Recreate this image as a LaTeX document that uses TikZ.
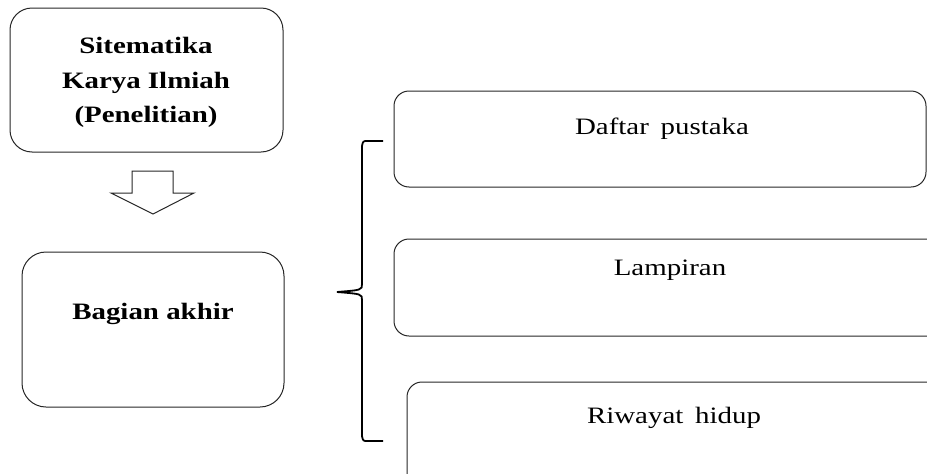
\documentclass[tikz,border=0pt]{standalone}
\usepackage{fontspec}
\setmainfont{Liberation Serif}[FakeStretch=1.23]
\begin{document}
\begin{tikzpicture}[x=1pt,y=-1pt,
  box/.style={draw=black!85,line width=1pt,rounded corners=#1},
  box/.default=15pt,
  lbl/.style={anchor=base,inner sep=0pt,font=\fontsize{23.5}{28}\selectfont},
  blbl/.style={lbl,font=\fontsize{23.5}{28}\selectfont\bfseries}]
\useasboundingbox (0,0) rectangle (927,474);
\clip (0,0) rectangle (927,474);

% left column: title box, arrow, final box
\draw[box=22pt] (10,8) rectangle (283,152);
\node[blbl] (t1) at (146,53) {Sitematika};
\node[blbl] (t2) at (146,88) {Karya Ilmiah};
\node[blbl] (t3) at (146,122) {(Penelitian)};

\draw[line width=1pt,black!85,line join=miter]
  (132,171) -- (173,171) -- (173,193) -- (194,193) -- (153,214)
  -- (111,193) -- (132,193) -- cycle;

\draw[box=24pt] (22,252) rectangle (284,407);
\node[blbl] (ba) at (153,319) {Bagian akhir};

% brace joining the parts
\coordinate (btop) at (383,141);
\coordinate (bmid) at (337,292);
\coordinate (bbot) at (383,441);
\draw[line width=1.8pt,black]
  (btop) -- (368,141) .. controls (363,141) .. (362,146) -- (362,284)
  .. controls (362,290) .. (bmid)
  .. controls (362,294) .. (362,300) -- (362,436)
  .. controls (363,441) .. (368,441) -- (bbot);

% right column boxes
\draw[box] (394,91) rectangle (926,187);
\node[lbl] (dp) at (662,134) {Daftar\hspace{0.5em}pustaka};

\draw[box] (394,239) rectangle (960,336);
\node[lbl] (lp) at (670,275) {Lampiran};

\draw[box] (407,382) rectangle (960,500);
\node[lbl] (rh) at (674,423) {Riwayat\hspace{0.5em}hidup};
\end{tikzpicture}
\end{document}
